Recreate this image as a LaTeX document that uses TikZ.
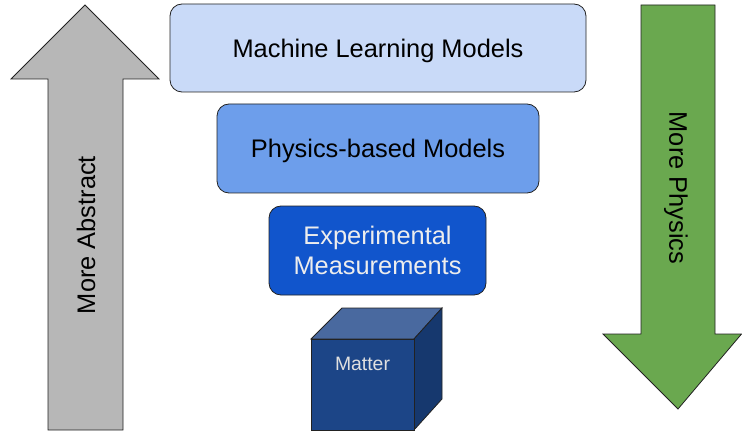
\documentclass[tikz,border=0pt]{standalone}
\usepackage{fontspec}
\setmainfont{Liberation Sans}
\definecolor{mlfill}{HTML}{C9DAF8}
\definecolor{phfill}{HTML}{6D9EEB}
\definecolor{exfill}{HTML}{1155CC}
\definecolor{cubefront}{HTML}{1C4587}
\definecolor{cubetop}{HTML}{49699F}
\definecolor{cuberight}{HTML}{16386E}
\definecolor{grayarrow}{HTML}{B7B7B7}
\definecolor{greenarrow}{HTML}{6AA84F}
\definecolor{edge}{HTML}{222222}
\tikzset{
  layerbox/.style={draw=edge, line width=0.8pt, rounded corners=12pt, align=center,
    inner sep=0pt, text depth=0pt, font=\fontsize{25.4}{30}\selectfont},
  shapeedge/.style={draw=edge, line width=0.8pt, line join=miter},
  biglabel/.style={font=\fontsize{25.4}{30}\selectfont, inner sep=0pt}
}
\begin{document}
\begin{tikzpicture}[x=1pt,y=-1pt]
\useasboundingbox (0,0) rectangle (742,433);
% left arrow
\draw[shapeedge, fill=grayarrow] (48,430) -- (48,79) -- (11,79) -- (85,5) -- (159,79) -- (123,79) -- (123,430) -- cycle;
\node[biglabel, rotate=90] (abs) at (86,235) {More Abstract};
% right arrow
\draw[shapeedge, fill=greenarrow] (641,5) -- (715,5) -- (715,334) -- (741.5,334) -- (678,409) -- (603,334) -- (641,334) -- cycle;
\node[biglabel, rotate=-90] (phys) at (676,188) {More Physics};
% boxes
\node[layerbox, fill=mlfill, minimum width=416pt, minimum height=88pt] (ml) at (378,48) {Machine Learning Models};
\node[layerbox, fill=phfill, minimum width=322pt, minimum height=89pt] (pb) at (378,148.5) {Physics-based Models};
\node[layerbox, fill=exfill, text=white!93!black, minimum width=217pt, minimum height=89pt] (ex) at (377.5,250.5) {Experimental\\Measurements};
% cube
\draw[shapeedge, fill=cubetop] (311,339) -- (342,308) -- (442,308) -- (414,339) -- cycle;
\draw[shapeedge, fill=cuberight] (414,339) -- (442,308) -- (442,399) -- (414,430) -- cycle;
\draw[shapeedge, fill=cubefront] (311,339) rectangle (414,430);
\node[font=\fontsize{19.4}{23}\selectfont, text=white!88!black, inner sep=0pt] (matter) at (362.5,364) {Matter};
\end{tikzpicture}
\end{document}
